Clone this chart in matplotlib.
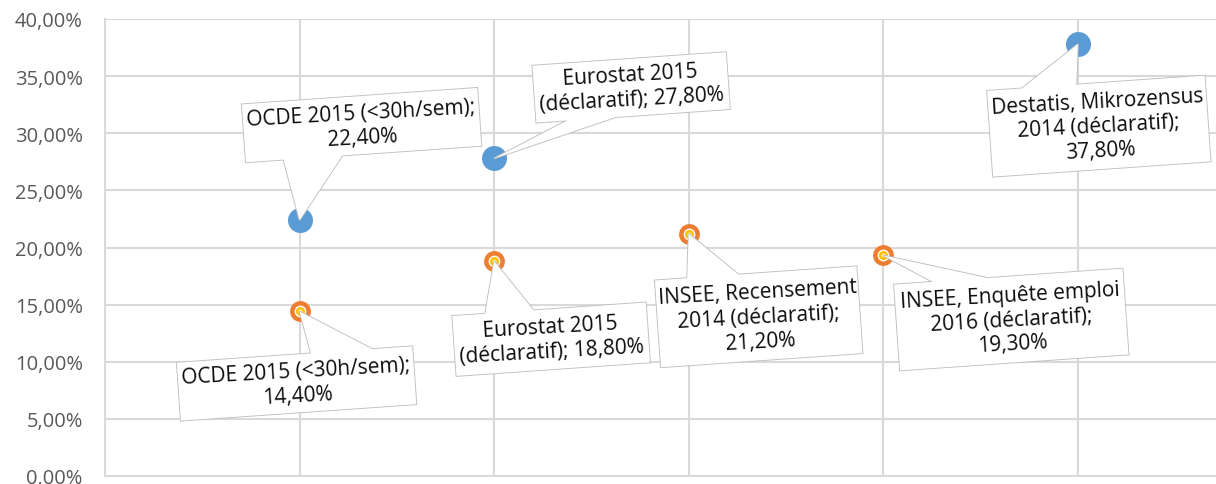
import numpy as np
import matplotlib
matplotlib.use('Agg')
import matplotlib.pyplot as plt
from matplotlib.patches import Polygon
from matplotlib.transforms import IdentityTransform

plt.rcParams['font.family'] = ['Open Sans', 'DejaVu Sans']

# Data
blue_x = [1, 2, 5]
blue_y = [22.4, 27.8, 37.8]
blue_labels = ['OCDE 2015 (<30h/sem);\n22,40%',
               'Eurostat 2015\n(déclaratif); 27,80%',
               'Destatis, Mikrozensus\n2014 (déclaratif);\n37,80%']

orange_x = [1, 2, 3, 4]
orange_y = [14.4, 18.8, 21.2, 19.3]
orange_labels = ['OCDE 2015 (<30h/sem);\n14,40%',
                 'Eurostat 2015\n(déclaratif); 18,80%',
                 'INSEE, Recensement\n2014 (déclaratif);\n21,20%',
                 'INSEE, Enquête emploi\n2016 (déclaratif);\n19,30%']

y_ticks = [0, 5, 10, 15, 20, 25, 30, 35, 40]

# callout layout (pixels): centre offset, width, height, pointer edge, base fractions
blue_boxes = [(62, 95, 236, 58, 'bottom', 0.16, 0.41),
              (137, 71, 194, 57, 'bottom', 0.16, 0.41),
              (21, -82, 218, 86, 'top', 0.16, 0.41)]
orange_boxes = [(-3, -72, 236, 58, 'top', 0.57, 0.83),
                (57, -78, 194, 60, 'top', 0.17, 0.42),
                (70, -83, 202, 87, 'top', 0.16, 0.415),
                (128, -64, 229, 86, 'top', 0.17, 0.41)]
ANGLE = 4.0

fig = plt.figure(figsize=(12.16, 4.85), dpi=100)
ax = fig.add_axes([105 / 1216, 1 - 477 / 485, 1 - 105 / 1216, 457 / 485])
ax.set_xlim(0, 5.71)
ax.set_ylim(0, 40)

grid_c = '#D9D9D9'
ax.set_yticks(y_ticks)
ax.set_yticklabels([f'{v:.2f}%'.replace('.', ',') for v in y_ticks],
                   fontsize=14.5, color='#595959')
ax.set_xticks([1, 2, 3, 4, 5])
ax.set_xticklabels([])
ax.tick_params(length=0, pad=16)
ax.grid(True, color=grid_c, linewidth=1.5)
ax.set_axisbelow(True)
for s in ['top', 'right']:
    ax.spines[s].set_visible(False)
for s in ['left', 'bottom']:
    ax.spines[s].set_color(grid_c)
    ax.spines[s].set_linewidth(1.5)

# markers
ax.plot(blue_x, blue_y, 'o', ms=18, color='#5B9BD5', mec='none', zorder=4)
ax.plot(orange_x, orange_y, 'o', ms=15, color='#ED7D31', mec='none', zorder=4)
ax.plot(orange_x, orange_y, 'o', ms=8.5, color='white', mec='none', zorder=4)
ax.plot(orange_x, orange_y, 'o', ms=6.5, color='#FFC000', mec='none', zorder=4)
ax.plot(orange_x, orange_y, 'o', ms=3, color='#FFE699', mec='none', zorder=4)


def callout(x, y, text, layout):
    dx, dy, w, h, edge, f1, f2 = layout
    px, py = ax.transData.transform((x, y))
    cx, cy = px + dx, py + dy
    a = np.deg2rad(ANGLE)
    rot = np.array([[np.cos(a), -np.sin(a)], [np.sin(a), np.cos(a)]])

    def to_disp(u, v):
        return rot @ np.array([u, v]) + np.array([cx, cy])

    u1 = -w / 2 + f1 * w
    u2 = -w / 2 + f2 * w
    if edge == 'bottom':
        pts = [to_disp(-w / 2, -h / 2), to_disp(u1, -h / 2), (px, py),
               to_disp(u2, -h / 2), to_disp(w / 2, -h / 2),
               to_disp(w / 2, h / 2), to_disp(-w / 2, h / 2)]
    else:
        pts = [to_disp(-w / 2, -h / 2), to_disp(w / 2, -h / 2),
               to_disp(w / 2, h / 2), to_disp(u2, h / 2), (px, py),
               to_disp(u1, h / 2), to_disp(-w / 2, h / 2)]
    fill = Polygon(pts, closed=True, facecolor='white', edgecolor='none',
                   transform=IdentityTransform(), zorder=3, clip_on=False)
    edge_p = Polygon(pts, closed=True, facecolor='none', edgecolor='#BFBFBF',
                     linewidth=1.3, transform=IdentityTransform(), zorder=5,
                     clip_on=False)
    fig.patches.append(fill)
    ax.add_patch(edge_p)
    fig.text(cx / 1216, cy / 485, text, ha='center', va='center',
             multialignment='center', rotation=ANGLE * 0.8, fontsize=15,
             color='#0D0D0D', linespacing=1.22, zorder=6,
             rotation_mode='anchor')


for x, y, t, l in zip(blue_x, blue_y, blue_labels, blue_boxes):
    callout(x, y, t, l)
for x, y, t, l in zip(orange_x, orange_y, orange_labels, orange_boxes):
    callout(x, y, t, l)

fig.savefig('out.png', dpi=100)
